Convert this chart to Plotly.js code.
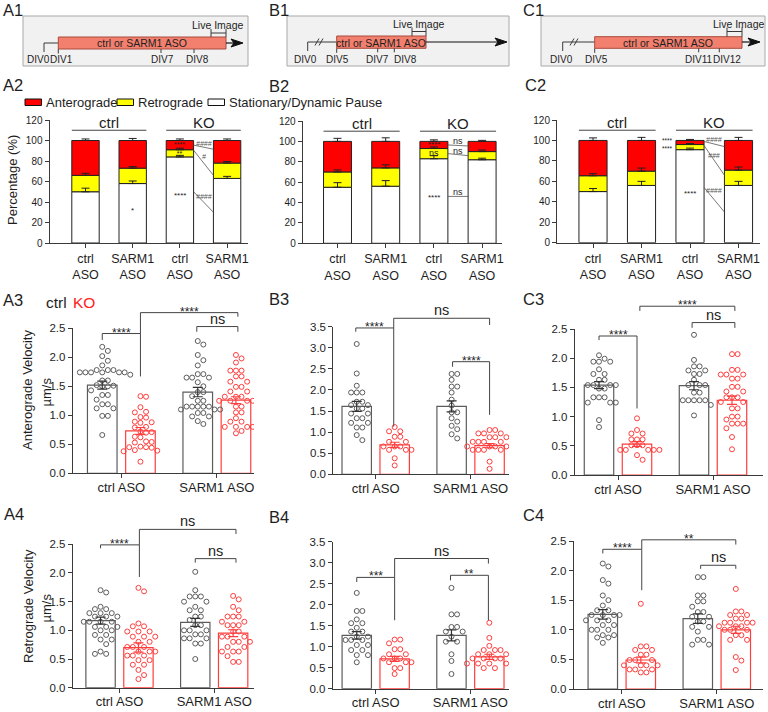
<!DOCTYPE html>
<html><head><meta charset="utf-8">
<script src="https://cdn.plot.ly/plotly-3.0.1.min.js"></script>
<style>html,body{margin:0;padding:0;background:#fff}#chart{width:768px;height:712px}</style>
</head><body><div id="chart"></div>
<script>
// ================= DATA =================
// --- timelines (row 1) ---
const A1_divLabels = ['DIV0', 'DIV1', 'DIV7', 'DIV8'];
const B1_divLabels = ['DIV0', 'DIV5', 'DIV7', 'DIV8'];
const C1_divLabels = ['DIV0', 'DIV5', 'DIV11', 'DIV12'];
const treatmentLabel = 'ctrl or SARM1 ASO';
const liveLabel = 'Live Image';

// --- stacked percentage bars (row 2) ---
const stackCategories = ['ctrl<br>ASO', 'SARM1<br>ASO', 'ctrl<br>ASO', 'SARM1<br>ASO'];
const stackGroups = ['ctrl', 'KO'];
const legendLabels = ['Anterograde', 'Retrograde', 'Stationary/Dynamic Pause'];

const A2_stationary = [50, 58, 84, 63];
const A2_retrograde = [16, 15, 7, 15];
const A2_anterograde = [34, 27, 9, 22];
const A2_errStationary = [3.5, 2.5, 1.5, 2];
const A2_errRetrograde = [2, 1.5, 1.5, 1.5];
const A2_errAnterograde = [1.5, 2, 1.5, 1.5];

const B2_stationary = [55, 56, 83, 82];
const B2_retrograde = [15, 18, 10, 8];
const B2_anterograde = [30, 26, 7, 10];
const B2_errStationary = [4.5, 5.5, 3, 1.5];
const B2_errRetrograde = [2, 3, 1.5, 1.5];
const B2_errAnterograde = [3, 3.5, 1.5, 1];

const C2_stationary = [50, 56, 91, 56];
const C2_retrograde = [15.5, 14, 5, 15];
const C2_anterograde = [34.5, 30, 4, 29];
const C2_errStationary = [3, 4, 1.5, 4];
const C2_errRetrograde = [2, 3, 1, 3];
const C2_errAnterograde = [2.5, 3, 1, 3];

// --- velocity panels (rows 3-4) ---
const groupLabels = ['ctrl ASO', 'SARM1 ASO'];
const genotypeLabels = ['ctrl', 'KO'];
const velocityTitles = ['Anterograde Velocity', 'Retrograde Velocity'];
const velocityUnit = 'µm/s';

// A3 anterograde velocity (µm/s)
const A3_ctrl_ctrlASO = [2.18, 2.11, 2.02, 1.94, 1.86, 1.78, 1.78, 1.78, 1.74, 1.74, 1.74, 1.74, 1.74, 1.74, 1.70, 1.60, 1.60, 1.52, 1.51, 1.50, 1.50, 1.43, 1.35, 1.35, 1.27, 1.19, 1.19, 1.12, 1.12, 0.99, 0.99, 0.66];
const A3_KO_ctrlASO = [1.33, 1.32, 1.14, 1.06, 1.05, 0.97, 0.96, 0.89, 0.88, 0.87, 0.80, 0.79, 0.72, 0.71, 0.70, 0.63, 0.62, 0.55, 0.54, 0.53, 0.46, 0.45, 0.45, 0.44, 0.40, 0.39, 0.38, 0.20];
const A3_ctrl_SARM1ASO = [2.28, 2.22, 2.04, 1.95, 1.86, 1.71, 1.71, 1.65, 1.65, 1.65, 1.57, 1.50, 1.40, 1.40, 1.33, 1.25, 1.25, 1.15, 1.15, 1.15, 1.15, 1.15, 1.10, 1.10, 1.10, 1.04, 1.04, 0.98, 0.98, 0.90, 0.85];
const A3_KO_SARM1ASO = [2.04, 1.98, 1.91, 1.77, 1.77, 1.77, 1.67, 1.67, 1.58, 1.58, 1.49, 1.49, 1.41, 1.41, 1.32, 1.32, 1.32, 1.25, 1.25, 1.25, 1.25, 1.15, 1.15, 1.05, 1.05, 0.95, 0.89, 0.89, 0.80, 0.80, 0.80, 0.80, 0.73, 0.69];
const A3_means = [1.52, 0.73, 1.40, 1.26];
const A3_sem = [0.07, 0.06, 0.08, 0.06];

// B3
const B3_ctrl_ctrlASO = [3.09, 2.39, 2.10, 1.94, 1.94, 1.94, 1.72, 1.72, 1.64, 1.64, 1.56, 1.56, 1.44, 1.44, 1.33, 1.33, 1.22, 1.22, 1.11, 1.11, 0.93, 0.81];
const B3_KO_ctrlASO = [1.12, 1.02, 1.02, 0.89, 0.89, 0.77, 0.77, 0.66, 0.66, 0.66, 0.58, 0.58, 0.58, 0.38, 0.21];
const B3_ctrl_SARM1ASO = [2.38, 2.38, 2.24, 2.08, 2.08, 1.94, 1.77, 1.63, 1.47, 1.47, 1.33, 1.25, 1.15, 1.07, 0.95, 0.85];
const B3_KO_SARM1ASO = [1.05, 1.05, 0.97, 0.97, 0.97, 0.88, 0.88, 0.88, 0.77, 0.77, 0.77, 0.77, 0.66, 0.66, 0.66, 0.66, 0.66, 0.58, 0.58, 0.58, 0.58, 0.30, 0.13];
const B3_means = [1.61, 0.70, 1.61, 0.68];
const B3_sem = [0.12, 0.06, 0.13, 0.05];

// C3
const C3_ctrl_ctrlASO = [2.05, 1.99, 1.94, 1.94, 1.94, 1.81, 1.73, 1.73, 1.63, 1.63, 1.54, 1.54, 1.54, 1.54, 1.48, 1.48, 1.33, 1.33, 1.33, 1.24, 1.24, 1.24, 0.94, 0.82];
const C3_KO_ctrlASO = [0.97, 0.77, 0.71, 0.71, 0.61, 0.61, 0.61, 0.51, 0.51, 0.51, 0.43, 0.43, 0.43, 0.43, 0.43, 0.34, 0.26];
const C3_ctrl_SARM1ASO = [2.40, 1.97, 1.86, 1.86, 1.79, 1.79, 1.73, 1.73, 1.63, 1.54, 1.54, 1.54, 1.41, 1.41, 1.28, 1.28, 1.28, 1.28, 1.28, 1.20, 1.02];
const C3_KO_SARM1ASO = [2.07, 2.07, 1.80, 1.80, 1.72, 1.72, 1.72, 1.65, 1.65, 1.51, 1.51, 1.43, 1.43, 1.33, 1.33, 1.33, 1.25, 1.25, 1.14, 1.14, 1.00, 1.00, 0.95, 0.88, 0.88, 0.88, 0.80, 0.65, 0.44];
const C3_means = [1.54, 0.53, 1.53, 1.28];
const C3_sem = [0.06, 0.04, 0.07, 0.07];

// A4 retrograde velocity (µm/s)
const A4_ctrl_ctrlASO = [1.70, 1.66, 1.41, 1.37, 1.37, 1.30, 1.30, 1.30, 1.24, 1.24, 1.24, 1.15, 1.15, 1.15, 1.15, 1.06, 1.06, 1.06, 1.00, 1.00, 0.92, 0.92, 0.84, 0.84, 0.76, 0.63, 0.59, 0.59];
const A4_KO_ctrlASO = [1.74, 1.68, 1.12, 1.07, 1.07, 0.98, 0.98, 0.98, 0.89, 0.89, 0.89, 0.80, 0.80, 0.71, 0.71, 0.71, 0.63, 0.63, 0.63, 0.56, 0.56, 0.56, 0.48, 0.48, 0.40, 0.40, 0.31, 0.22, 0.15];
const A4_ctrl_SARM1ASO = [2.02, 1.70, 1.59, 1.59, 1.59, 1.50, 1.50, 1.41, 1.35, 1.35, 1.24, 1.24, 1.18, 1.09, 1.09, 1.00, 1.00, 1.00, 0.93, 0.93, 0.86, 0.86, 0.86, 0.77, 0.77, 0.50];
const A4_KO_SARM1ASO = [1.60, 1.54, 1.41, 1.35, 1.24, 1.24, 1.24, 1.15, 1.15, 1.09, 1.09, 1.09, 0.98, 0.98, 0.89, 0.89, 0.89, 0.80, 0.80, 0.80, 0.71, 0.71, 0.63, 0.63, 0.63, 0.55, 0.45, 0.45];
const A4_means = [1.17, 0.70, 1.14, 0.95];
const A4_sem = [0.06, 0.08, 0.07, 0.06];

// B4
const B4_ctrl_ctrlASO = [2.28, 1.85, 1.85, 1.65, 1.56, 1.56, 1.45, 1.36, 1.36, 1.24, 1.24, 1.16, 1.16, 1.16, 1.04, 1.04, 0.92, 0.92, 0.80, 0.80, 0.63];
const B4_KO_ctrlASO = [1.17, 1.17, 1.08, 0.94, 0.94, 0.82, 0.82, 0.72, 0.72, 0.72, 0.63, 0.63, 0.63, 0.49, 0.49, 0.35];
const B4_ctrl_SARM1ASO = [2.40, 1.77, 1.77, 1.47, 1.47, 1.36, 1.36, 1.24, 1.12, 1.12, 0.82, 0.66, 0.35];
const B4_KO_SARM1ASO = [1.57, 1.21, 1.02, 0.92, 0.92, 0.92, 0.82, 0.82, 0.82, 0.72, 0.72, 0.72, 0.72, 0.60, 0.60, 0.60, 0.60, 0.60, 0.49, 0.49];
const B4_means = [1.27, 0.71, 1.27, 0.76];
const B4_sem = [0.09, 0.06, 0.13, 0.06];

// C4
const C4_ctrl_ctrlASO = [2.12, 2.07, 1.84, 1.78, 1.58, 1.50, 1.41, 1.33, 1.33, 1.25, 1.25, 1.25, 1.25, 1.16, 1.16, 1.16, 1.08, 1.08, 1.00, 1.00, 1.00, 0.91, 0.91, 0.87, 0.87, 0.78];
const C4_KO_ctrlASO = [1.44, 0.72, 0.72, 0.66, 0.66, 0.58, 0.58, 0.49, 0.49, 0.49, 0.40, 0.40, 0.40, 0.40, 0.33, 0.33, 0.33, 0.28, 0.28];
const C4_ctrl_SARM1ASO = [1.89, 1.89, 1.58, 1.58, 1.48, 1.48, 1.39, 1.30, 1.30, 1.22, 1.22, 1.14, 1.14, 1.05, 1.05, 0.97, 0.83, 0.83, 0.75, 0.75];
const C4_KO_SARM1ASO = [1.69, 1.31, 1.31, 1.25, 1.25, 1.19, 1.19, 1.12, 1.12, 1.12, 1.12, 1.06, 1.06, 1.06, 1.00, 1.00, 1.00, 0.91, 0.91, 0.83, 0.83, 0.54, 0.48, 0.32];
const C4_means = [1.26, 0.49, 1.19, 1.00];
const C4_sem = [0.08, 0.05, 0.08, 0.06];

// ================= DRAWING =================
const W = 768, H = 712;
const FONT = 'Liberation Sans, Arial, Helvetica, sans-serif';
const AX = '#3a3a3a', TXT = '#1e1e1e', GRAY = '#5c5c5c', RED = '#ff3d3d';
const fx = x => x / W, fy = y => 1 - y / H;
const traces = [], shapes = [], annotations = [];
const layout = {width: W, height: H, margin: {l: 0, r: 0, t: 0, b: 0}, showlegend: false,
  paper_bgcolor: '#fff', plot_bgcolor: 'rgba(0,0,0,0)', barmode: 'overlay', font: {family: FONT, color: TXT}};

function line(x0, y0, x1, y1, color, w) {
  shapes.push({type: 'line', xref: 'paper', yref: 'paper', x0: fx(x0), y0: fy(y0), x1: fx(x1), y1: fy(y1),
    line: {color: color || AX, width: w || 1}});
}
function rect(x0, y0, x1, y1, fill, lc, lw) {
  shapes.push({type: 'rect', xref: 'paper', yref: 'paper', x0: fx(x0), y0: fy(y1), x1: fx(x1), y1: fy(y0),
    fillcolor: fill, line: {color: lc || AX, width: lw === undefined ? 1 : lw}});
}
function poly(pts, fill) {
  const d = pts.map((p, i) => (i ? 'L' : 'M') + fx(p[0]) + ',' + fy(p[1])).join(' ') + ' Z';
  shapes.push({type: 'path', xref: 'paper', yref: 'paper', path: d, fillcolor: fill, line: {color: fill, width: 1}});
}
function text(x, y, t, size, opt) {
  opt = opt || {};
  annotations.push(Object.assign({xref: 'paper', yref: 'paper', x: fx(x), y: fy(y), text: t, showarrow: false,
    xanchor: opt.xa || 'center', yanchor: opt.ya || 'middle', textangle: opt.angle || 0, borderpad: 0,
    font: {family: FONT, size: size, color: opt.color || TXT, style: opt.style || 'normal'}}, opt.extra || {}));
}

// ---- panel letters ----
[['A1', 2, 10], ['B1', 268, 10], ['C1', 522, 10], ['A2', 2, 85], ['B2', 268, 86], ['C2', 524, 85],
 ['A3', 2, 300], ['B3', 268, 299], ['C3', 522, 299], ['A4', 3, 514], ['B4', 268, 517], ['C4', 522, 515]]
  .forEach(l => text(l[1], l[2], l[0], 16.5, {xa: 'left'}));

// ---- timelines ----
function timeline(cfg, labels) {
  rect(cfg.box[0], cfg.box[1], cfg.box[2], cfg.box[3], '#f1f1f1', '#a8a8a8', 1);
  const by = cfg.baseY;
  line(cfg.tickX[0], by, cfg.tickX[0], by + 9, AX, 1);
  line(cfg.tickX[0], by, cfg.bar[0], by, AX, 1);
  if (cfg.breakX) {
    line(cfg.breakX - 5, by + 3.5, cfg.breakX - 1, by - 3.5, AX, 1);
    line(cfg.breakX - 1, by + 3.5, cfg.breakX + 3, by - 3.5, AX, 1);
  }
  line(cfg.bar[0], cfg.bar[3], cfg.bar[0], cfg.bar[3] + 4.5, AX, 1);
  rect(cfg.bar[0], cfg.bar[1], cfg.bar[2], cfg.bar[3], '#f3806e', '#a84a3c', 1);
  text((cfg.bar[0] + cfg.bar[2]) / 2, (cfg.bar[1] + cfg.bar[3]) / 2 + 0.5, treatmentLabel, 10.5);
  line(cfg.bar[2], by, cfg.arrowEnd - 7, by, '#111', 1.2);
  poly([[cfg.arrowEnd - 12, by - 4], [cfg.arrowEnd, by], [cfg.arrowEnd - 12, by + 4], [cfg.arrowEnd - 9, by]], '#111');
  for (let i = 2; i < cfg.tickX.length; i++) line(cfg.tickX[i], cfg.bar[3], cfg.tickX[i], cfg.bar[3] + 4, AX, 1);
  line(cfg.live[0], cfg.liveY - 4, cfg.live[0], cfg.bar[1], AX, 1);
  line(cfg.live[1], cfg.liveY - 4, cfg.live[1], cfg.bar[1], AX, 1);
  line(cfg.live[0], cfg.liveY, cfg.live[1], cfg.liveY, AX, 1);
  text(cfg.liveTextX, cfg.liveY - 8, liveLabel, 10.5);
  labels.forEach((l, i) => text(cfg.labelX[i], 59.5, l, 10));
}
timeline({box: [23, 16, 248, 66], baseY: 43, tickX: [44, 58.3, 161, 194], bar: [58.3, 37, 226, 49],
  arrowEnd: 243, live: [211, 226], liveY: 33, liveTextX: 218, labelX: [38.5, 61, 162, 197]}, A1_divLabels);
timeline({box: [287, 16, 509, 66], baseY: 42, tickX: [307.7, 336.7, 377.7, 394.3], breakX: 320, bar: [336.7, 36, 426, 48.3],
  arrowEnd: 507, live: [412, 426], liveY: 31.5, liveTextX: 419, labelX: [305.7, 337, 377, 405]}, B1_divLabels);
timeline({box: [541, 16, 765, 66], baseY: 42, tickX: [562.7, 594.7, 698.7, 719.3], breakX: 575, bar: [594.7, 36.7, 742, 48.3],
  arrowEnd: 760, live: [727, 742], liveY: 31.5, liveTextX: 738.7, labelX: [561, 596, 698, 727]}, C1_divLabels);

// ---- legend for row 2 ----
const legendColors = ['#ff0000', '#ffff00', '#ffffff'];
const legendX = [25, 117, 208];
legendLabels.forEach((l, i) => {
  rect(legendX[i], 99, legendX[i] + 16.5, 105.5, legendColors[i], '#111', 1);
  text(legendX[i] + 19.5, 102.5, l, 13, {xa: 'left'});
});

// ---- stacked panels ----
const stackPanels = [
  {idx: 1, left: 49.5, right: 248, y0: 243, ytop: 120, c0: 85.5, step: 47.2,
   stat: A2_stationary, retro: A2_retrograde, ante: A2_anterograde, eS: A2_errStationary, eR: A2_errRetrograde, eA: A2_errAnterograde,
   marks: [[2, 92, '****<br>**', 7], [2, 46, '****', 8], [1, 32, '*', 8], [2.5, 97.5, '####', 7], [2.5, 84.5, '#', 7], [2.5, 45, '####', 7]],
   links: [[95.5, 91.5], [90.5, 66], [50, 30]]},
  {idx: 2, left: 302.7, right: 502, y0: 243.3, ytop: 121, c0: 337.5, step: 48.2,
   stat: B2_stationary, retro: B2_retrograde, ante: B2_anterograde, eS: B2_errStationary, eR: B2_errRetrograde, eA: B2_errAnterograde,
   marks: [[2, 96.5, '****', 8], [2, 88.5, 'ns', 9], [2, 45, '****', 8], [2.5, 100.5, 'ns', 9], [2.5, 90.5, 'ns', 9], [2.5, 50.5, 'ns', 9]],
   links: [[96.5, 95.5], [88, 86], [46, 46]]},
  {idx: 3, left: 557, right: 760, y0: 242.7, ytop: 120, c0: 593, step: 48.5,
   stat: C2_stationary, retro: C2_retrograde, ante: C2_anterograde, eS: C2_errStationary, eR: C2_errRetrograde, eA: C2_errAnterograde,
   marks: [[1.68, 96, '****<br>****', 6.5, 'right'], [2, 48, '****', 8], [2.5, 100.5, '####', 7], [2.5, 85.5, '###', 7], [2.5, 51, '####', 7]],
   links: [[99, 94], [95, 66], [54, 30]]}
];
const cats4 = [0, 1, 2, 3];
stackPanels.forEach(p => {
  const id = p.idx;
  const sx = v => p.c0 + v * p.step, sy = v => p.y0 - v * (p.y0 - p.ytop) / 120;
  layout['xaxis' + id] = {domain: [fx(p.left), fx(p.right)], range: [(p.left - p.c0) / p.step, (p.right - p.c0) / p.step],
    anchor: 'y' + id, tickvals: cats4, ticktext: stackCategories, ticks: 'outside', ticklen: 4, tickcolor: AX,
    showline: true, linecolor: AX, linewidth: 1, showgrid: false, zeroline: false, fixedrange: true,
    tickfont: {family: FONT, size: 12.5, color: TXT}};
  layout['yaxis' + id] = {domain: [fy(p.y0), fy(p.ytop)], range: [0, 120], anchor: 'x' + id,
    tickvals: [0, 20, 40, 60, 80, 100, 120], ticks: 'outside', ticklen: 4, tickcolor: AX,
    showline: true, linecolor: AX, linewidth: 1, showgrid: false, zeroline: false, fixedrange: true,
    tickfont: {family: FONT, size: 10, color: TXT}};
  const xa = 'x' + id, ya = 'y' + id;
  const top1 = p.stat, top2 = p.stat.map((s, i) => s + p.retro[i]), top3 = top2.map((s, i) => s + p.ante[i]);
  const segs = [[p.stat, cats4.map(() => 0), '#ffffff'], [p.retro, top1, '#ffff00'], [p.ante, top2, '#ff0000']];
  segs.forEach(s => traces.push({type: 'bar', x: cats4, y: s[0], base: s[1], width: 0.58, xaxis: xa, yaxis: ya,
    marker: {color: s[2], line: {color: '#222', width: 1}}, hoverinfo: 'skip'}));
  [[top1, p.eS], [top2, p.eR], [top3, p.eA]].forEach(e => traces.push({type: 'scatter', mode: 'markers', x: cats4, y: e[0],
    xaxis: xa, yaxis: ya, marker: {size: 1, color: 'rgba(0,0,0,0)'}, hoverinfo: 'skip',
    error_y: {type: 'data', symmetric: false, array: e[1], arrayminus: cats4.map(() => 0), color: '#222', thickness: 1, width: 4}}));
  stackGroups.forEach((g, gi) => {
    line(sx(gi * 2 - 0.29), sy(110), sx(gi * 2 + 1.29), sy(110), '#444', 1);
    text(sx(gi * 2 + 0.5), sy(117.5), g, 15);
  });
  p.marks.forEach(m => {
    const hash = m[2].indexOf('#') >= 0;
    text(sx(m[0]), sy(m[1]), m[2], m[3], {xa: m[4] || 'center', color: hash ? '#555' : TXT, style: hash ? 'italic' : 'normal'});
  });
  p.links.forEach(k => line(sx(2.29), sy(k[0]), sx(2.71), sy(k[1]), '#555', 0.8));
});
text(12, 180, 'Percentage (%)', 13, {angle: -90});

// ---- velocity panels ----
function swarm(vals, pxY, pxX, diam) {
  const order = vals.map((v, i) => i).sort((a, b) => vals[b] - vals[a]);
  const placed = [], xs = new Array(vals.length);
  order.forEach(i => {
    const y = vals[i] * pxY;
    for (let k = 0; k < 80; k++) {
      const m = k === 0 ? 0 : (k % 2 ? (k + 1) / 2 : -k / 2);
      const x = m * diam;
      if (placed.every(q => (q.x - x) * (q.x - x) + (q.y - y) * (q.y - y) >= diam * diam * 0.92)) {
        placed.push({x, y}); xs[i] = x / pxX; break;
      }
    }
  });
  return xs;
}
const velPanels = [
  {idx: 4, left: 72.7, right: 254, y0: 473.3, ytop: 328.3, ymax: 2.5, g0: 121.35, step: 95.5,
   data: [A3_ctrl_ctrlASO, A3_KO_ctrlASO, A3_ctrl_SARM1ASO, A3_KO_SARM1ASO], means: A3_means, sem: A3_sem,
   brackets: [[-0.2, 0.2, 2.41, 2.30, 1.67, '****'], [0.2, 1.22, 2.77, 2.41, 2.70, '****'], [0.79, 1.22, 2.53, 2.44, 2.44, 'ns']]},
  {idx: 5, left: 333.3, right: 509, y0: 474.3, ytop: 326.7, ymax: 3.5, g0: 375.7, step: 94.9,
   data: [B3_ctrl_ctrlASO, B3_KO_ctrlASO, B3_ctrl_SARM1ASO, B3_KO_SARM1ASO], means: B3_means, sem: B3_sem,
   brackets: [[-0.21, 0.19, 3.47, 3.38, 1.13, '****'], [0.19, 1.2, 3.70, 3.47, 3.54, 'ns'], [0.81, 1.2, 2.67, 2.55, 1.41, '****']]},
  {idx: 6, left: 574.7, right: 763, y0: 475, ytop: 329, ymax: 2.5, g0: 618, step: 95,
   data: [C3_ctrl_ctrlASO, C3_KO_ctrlASO, C3_ctrl_SARM1ASO, C3_KO_SARM1ASO], means: C3_means, sem: C3_sem,
   brackets: [[-0.2, 0.2, 2.38, 2.31, 1.14, '****'], [0.23, 1.23, 2.89, 2.81, 2.81, '****'], [0.78, 1.23, 2.61, 2.52, 2.52, 'ns']]},
  {idx: 7, left: 72.7, right: 254, y0: 687.7, ytop: 544.3, ymax: 2.5, g0: 119.5, step: 94.7,
   data: [A4_ctrl_ctrlASO, A4_KO_ctrlASO, A4_ctrl_SARM1ASO, A4_KO_SARM1ASO], means: A4_means, sem: A4_sem,
   brackets: [[-0.2, 0.21, 2.49, 2.43, 1.93, '****'], [0.21, 1.23, 2.76, 2.49, 2.68, 'ns'], [0.8, 1.23, 2.25, 2.18, 2.18, 'ns']]},
  {idx: 8, left: 332.7, right: 509, y0: 688.7, ytop: 541.7, ymax: 3.5, g0: 375.7, step: 94.7,
   data: [B4_ctrl_ctrlASO, B4_KO_ctrlASO, B4_ctrl_SARM1ASO, B4_KO_SARM1ASO], means: B4_means, sem: B4_sem,
   brackets: [[-0.2, 0.2, 2.65, 2.54, 1.63, '***'], [0.2, 1.19, 3.10, 2.65, 2.98, 'ns'], [0.79, 1.19, 2.70, 2.58, 1.63, '**']]},
  {idx: 9, left: 573.7, right: 763, y0: 689, ytop: 541, ymax: 2.5, g0: 621.8, step: 95,
   data: [C4_ctrl_ctrlASO, C4_KO_ctrlASO, C4_ctrl_SARM1ASO, C4_KO_SARM1ASO], means: C4_means, sem: C4_sem,
   brackets: [[-0.2, 0.21, 2.36, 2.29, 1.67, '****'], [0.21, 1.2, 2.52, 2.36, 2.44, '**'], [0.83, 1.2, 2.09, 2.03, 2.03, 'ns']]}
];
const barX = [-0.2, 0.2, 0.8, 1.2];
velPanels.forEach(p => {
  const id = p.idx, xa = 'x' + id, ya = 'y' + id;
  const pxY = (p.y0 - p.ytop) / p.ymax;
  const sx = v => p.g0 + v * p.step, sy = v => p.y0 - v * pxY;
  const ticks = [];
  for (let v = 0; v <= p.ymax + 1e-9; v += 0.5) ticks.push(v);
  layout['xaxis' + id] = {domain: [fx(p.left), fx(p.right)], range: [(p.left - p.g0) / p.step, (p.right - p.g0) / p.step],
    anchor: ya, tickvals: [0, 1], ticktext: groupLabels, ticks: 'outside', ticklen: 4, tickcolor: AX,
    ticklabelstandoff: -2,
    showline: true, linecolor: AX, linewidth: 1, showgrid: false, zeroline: false, fixedrange: true,
    tickfont: {family: FONT, size: 13, color: TXT}};
  layout['yaxis' + id] = {domain: [fy(p.y0), fy(p.ytop)], range: [0, p.ymax], anchor: xa,
    tickvals: ticks, tickformat: '.1f', ticks: 'outside', ticklen: 4, tickcolor: AX,
    showline: true, linecolor: AX, linewidth: 1, showgrid: false, zeroline: false, fixedrange: true,
    tickfont: {family: FONT, size: 11.5, color: TXT}};
  [[0, 2, GRAY], [1, 3, RED]].forEach(g => {
    traces.push({type: 'bar', x: [barX[g[0]], barX[g[1]]], y: [p.means[g[0]], p.means[g[1]]], width: 0.31,
      xaxis: xa, yaxis: ya, marker: {color: 'rgba(255,255,255,0)', line: {color: g[2], width: 1.2}}, hoverinfo: 'skip'});
  });
  p.data.forEach((vals, gi) => {
    const off = swarm(vals, pxY, p.step, 5.6);
    const col = gi % 2 ? RED : GRAY;
    traces.push({type: 'scatter', mode: 'markers', x: vals.map((v, i) => barX[gi] + off[i]), y: vals, xaxis: xa, yaxis: ya,
      marker: {symbol: 'circle-open', size: 5, color: col, line: {width: 1, color: col}}, hoverinfo: 'skip'});
  });
  [[0, 2, '#333'], [1, 3, RED]].forEach(g => {
    traces.push({type: 'scatter', mode: 'markers', x: [barX[g[0]], barX[g[1]]], y: [p.means[g[0]], p.means[g[1]]],
      xaxis: xa, yaxis: ya, marker: {size: 1, color: 'rgba(0,0,0,0)'}, hoverinfo: 'skip',
      error_y: {type: 'data', array: [p.sem[g[0]], p.sem[g[1]]], color: g[2], thickness: 1.2, width: 5}});
  });
  p.brackets.forEach(b => {
    const x0 = sx(b[0]), x1 = sx(b[1]), y = sy(b[2]);
    line(x0, y, x1, y, '#444', 1);
    line(x0, y, x0, sy(b[3]), '#444', 1);
    line(x1, y, x1, sy(b[4]), '#444', 1);
    const isNs = b[5] === 'ns';
    text((x0 + x1) / 2, y - (isNs ? 8 : 4), b[5], isNs ? 14.5 : 12, {extra: {yshift: isNs ? 0 : -3}});
  });
});
// velocity y titles & legend
text(28, 390, velocityTitles[0], 13, {angle: -90});
text(45.5, 392, velocityUnit, 13, {angle: -90});
text(28, 606, velocityTitles[1], 13, {angle: -90});
text(45.5, 608, velocityUnit, 13, {angle: -90});
text(45, 302, genotypeLabels[0], 15.5, {xa: 'left'});
text(72, 302, genotypeLabels[1], 15.5, {xa: 'left', color: '#ff2020'});

layout.shapes = shapes;
layout.annotations = annotations;
Plotly.newPlot('chart', traces, layout, {staticPlot: true, displayModeBar: false});
</script>
</body></html>
